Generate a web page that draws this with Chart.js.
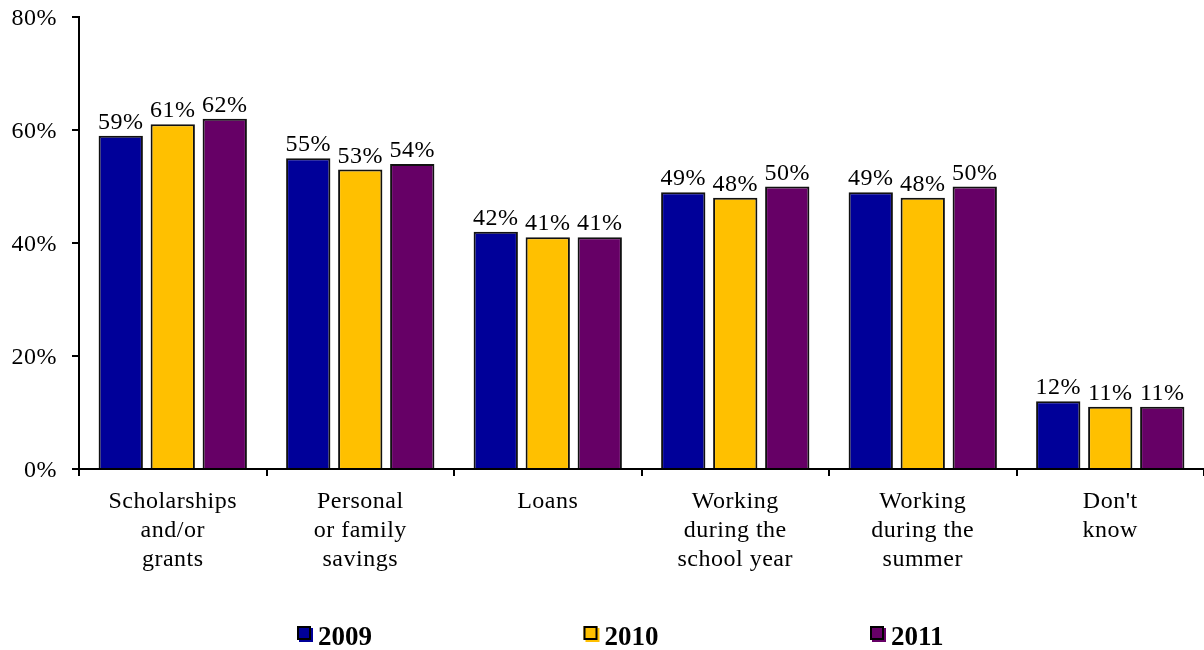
<!DOCTYPE html>
<html>
<head>
<meta charset="utf-8">
<script src="https://cdn.jsdelivr.net/npm/chart.js@4/dist/chart.umd.min.js"></script>
<style>
  html, body { margin: 0; padding: 0; background: #ffffff; }
  #wrap { width: 1204px; height: 650px; position: relative; }
</style>
</head>
<body>
<div id="wrap"><canvas id="c"></canvas></div>
<script>
// Sources of money for college, share of respondents by survey year
const categories = [
  ["Scholarships", "and/or", "grants"],
  ["Personal", "or family", "savings"],
  ["Loans"],
  ["Working", "during the", "school year"],
  ["Working", "during the", "summer"],
  ["Don't", "know"]
];
const years = ["2009", "2010", "2011"];
const values2009 = [59, 55, 42, 49, 49, 12];
const values2010 = [61, 53, 41, 48, 48, 11];
const values2011 = [62, 54, 41, 50, 50, 11];
const yTickValues = [0, 20, 40, 60, 80];

const seriesColors = ["#000099", "#FFC000", "#660066"];
const FONT = "'Liberation Serif', 'Times New Roman', serif";

// Slight tracking on all chart text
const trackingPlugin = {
  id: "tracking",
  beforeDraw(chart) { chart.ctx.letterSpacing = "0.5px"; },
  afterDraw(chart) { chart.ctx.letterSpacing = "0px"; }
};

// Percentage labels above each bar
const valueLabels = {
  id: "valueLabels",
  afterDatasetsDraw(chart) {
    const ctx = chart.ctx;
    ctx.save();
    ctx.font = "24px " + FONT;
    ctx.fillStyle = "#000";
    ctx.textAlign = "center";
    ctx.textBaseline = "alphabetic";
    chart.data.datasets.forEach((ds, i) => {
      chart.getDatasetMeta(i).data.forEach((bar, j) => {
        ctx.fillText(ds.data[j] + "%", bar.x, bar.y - 7);
      });
    });
    ctx.restore();
  }
};

// Legend row along the bottom: framed swatch with offset fill, bold year
const yearLegend = {
  id: "yearLegend",
  afterDraw(chart) {
    const ctx = chart.ctx;
    const left = chart.chartArea.left + 218;
    const step = 286.5;
    const top = 626;
    ctx.save();
    ctx.letterSpacing = "0px";
    chart.data.datasets.forEach((ds, i) => {
      const x = left + i * step;
      ctx.fillStyle = ds.backgroundColor;
      ctx.fillRect(x + 2, top + 2, 14, 14);
      ctx.fillRect(x, top, 14, 14);
      ctx.strokeStyle = "#000";
      ctx.lineWidth = 2;
      ctx.strokeRect(x + 1, top + 1, 12, 12);
      ctx.fillStyle = "#000";
      ctx.font = "bold 27px " + FONT;
      ctx.textAlign = "left";
      ctx.textBaseline = "alphabetic";
      ctx.fillText(ds.label, x + 21, top + 19);
    });
    ctx.restore();
  }
};

const seriesValues = [values2009, values2010, values2011];

new Chart(document.getElementById("c"), {
  type: "bar",
  data: {
    labels: categories,
    datasets: years.map((y, i) => ({
      label: y,
      data: seriesValues[i],
      backgroundColor: seriesColors[i],
      borderColor: "#111111",
      borderWidth: 2,
      categoryPercentage: 0.832,
      barPercentage: 0.852
    }))
  },
  options: {
    responsive: true,
    maintainAspectRatio: false,
    animation: false,
    layout: { padding: { top: 17, right: 0, bottom: 0, left: 0 } },
    plugins: {
      legend: { display: false },
      tooltip: { enabled: false }
    },
    scales: {
      x: {
        grid: {
          drawOnChartArea: false,
          drawTicks: true,
          tickLength: 7,
          color: "#000",
          lineWidth: 2
        },
        border: { color: "#000", width: 2 },
        ticks: {
          color: "#000",
          font: { family: FONT, size: 24, lineHeight: 1.22 },
          padding: 11,
          maxRotation: 0,
          autoSkip: false
        },
        afterFit(scale) {
          scale.height = 181;
          scale.paddingLeft = 0;
          scale.paddingRight = 0;
        }
      },
      y: {
        min: 0,
        max: 80,
        afterBuildTicks(scale) { scale.ticks = yTickValues.map(v => ({ value: v })); },
        grid: {
          drawOnChartArea: false,
          drawTicks: true,
          tickLength: 7,
          color: "#000",
          lineWidth: 2
        },
        border: { color: "#000", width: 2 },
        ticks: {
          color: "#000",
          font: { family: FONT, size: 24 },
          padding: 15,
          labelOffset: 2,
          callback: v => v + "%"
        },
        afterFit(scale) {
          scale.width = 79;
          scale.paddingTop = 0;
          scale.paddingBottom = 0;
        }
      }
    }
  },
  plugins: [trackingPlugin, valueLabels, yearLegend]
});
</script>
</body>
</html>
